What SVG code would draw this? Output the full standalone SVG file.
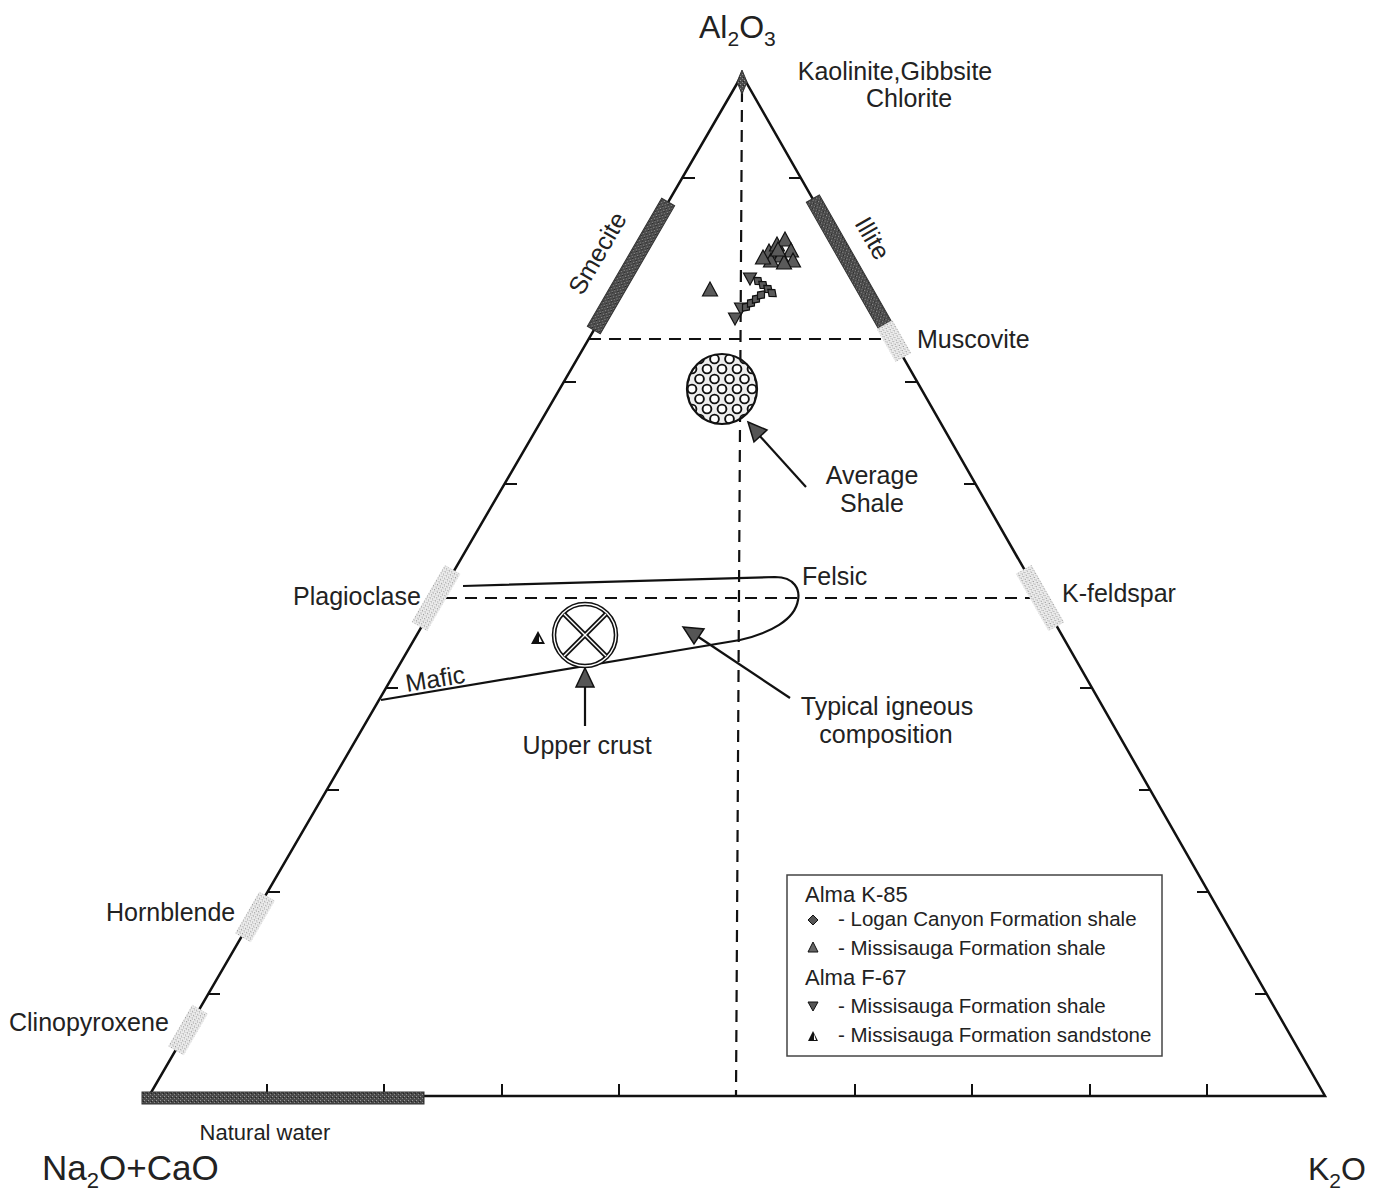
<svg xmlns="http://www.w3.org/2000/svg" width="1383" height="1193" viewBox="0 0 1383 1193">
<defs>
<style>
.edge{fill:none;stroke:#111;stroke-width:2.5;stroke-linejoin:miter}
.tick{stroke:#111;stroke-width:2}
.dash{fill:none;stroke:#111;stroke-width:2.2;stroke-dasharray:12 8}
.solid{fill:none;stroke:#111;stroke-width:2.2}
.lbl{font-family:"Liberation Sans",Arial,sans-serif;font-size:25px;fill:#222}
.big{font-family:"Liberation Sans",Arial,sans-serif;font-size:32px;fill:#222}
.leg{font-family:"Liberation Sans",Arial,sans-serif;font-size:20.5px;fill:#222}
.legh{font-family:"Liberation Sans",Arial,sans-serif;font-size:22px;fill:#222}
.dark{fill:url(#darkPat);stroke:#333;stroke-width:1}
.light{fill:url(#lightPat);stroke:none}
.pt{fill:#5a5a5a;stroke:#111;stroke-width:1.2}
.ahead{fill:#555;stroke:#111;stroke-width:1.5}
</style>
<pattern id="darkPat" width="4" height="4" patternUnits="userSpaceOnUse">
<rect width="4" height="4" fill="#4a4a4a"/>
<rect x="0" y="0" width="1" height="1" fill="#999"/>
<rect x="2" y="2" width="1" height="1" fill="#888"/>
<rect x="3" y="1" width="1" height="1" fill="#222"/>
</pattern>
<pattern id="lightPat" width="3" height="3" patternUnits="userSpaceOnUse">
<rect width="3" height="3" fill="#ececec"/>
<rect x="0" y="0" width="1" height="1" fill="#999"/>
<rect x="2" y="1" width="1" height="1" fill="#bbb"/>
</pattern>
<pattern id="ringPat" width="15" height="20" patternUnits="userSpaceOnUse" x="722" y="389">
<rect width="15" height="20" fill="#eeeeee"/>
<circle cx="0" cy="0" r="4.4" fill="#fff" stroke="#111" stroke-width="1.9"/>
<circle cx="15" cy="0" r="4.4" fill="#fff" stroke="#111" stroke-width="1.9"/>
<circle cx="0" cy="20" r="4.4" fill="#fff" stroke="#111" stroke-width="1.9"/>
<circle cx="15" cy="20" r="4.4" fill="#fff" stroke="#111" stroke-width="1.9"/>
<circle cx="7.5" cy="10" r="4.4" fill="#fff" stroke="#111" stroke-width="1.9"/>
</pattern>
<path id="triUp" d="M0,-9 L7.5,5 L-7.5,5 Z"/>
<path id="triDn" d="M0,7 L6.5,-5 L-6.5,-5 Z"/>
<path id="dia" d="M0,-5.5 L4.5,0 L0,5.5 L-4.5,0 Z"/>
</defs>
<rect width="1383" height="1193" fill="#fff"/>

<g id="triangle">
<path class="edge" d="M742,75 L149,1096 L1325,1096 Z"/>
</g>

<g id="ticks">
<line class="tick" x1="208" y1="994" x2="220" y2="994"/>
<line class="tick" x1="268" y1="892" x2="280" y2="892"/>
<line class="tick" x1="327" y1="790" x2="339" y2="790"/>
<line class="tick" x1="386" y1="688" x2="398" y2="688"/>
<line class="tick" x1="505" y1="484" x2="517" y2="484"/>
<line class="tick" x1="564" y1="382" x2="576" y2="382"/>
<line class="tick" x1="683" y1="178" x2="695" y2="178"/>
<line class="tick" x1="1255" y1="994" x2="1267" y2="994"/>
<line class="tick" x1="1197" y1="892" x2="1209" y2="892"/>
<line class="tick" x1="1139" y1="790" x2="1151" y2="790"/>
<line class="tick" x1="1080" y1="688" x2="1092" y2="688"/>
<line class="tick" x1="964" y1="484" x2="976" y2="484"/>
<line class="tick" x1="905" y1="382" x2="917" y2="382"/>
<line class="tick" x1="789" y1="178" x2="801" y2="178"/>
<line class="tick" x1="267" y1="1084" x2="267" y2="1096"/>
<line class="tick" x1="384" y1="1084" x2="384" y2="1096"/>
<line class="tick" x1="502" y1="1084" x2="502" y2="1096"/>
<line class="tick" x1="619" y1="1084" x2="619" y2="1096"/>
<line class="tick" x1="855" y1="1084" x2="855" y2="1096"/>
<line class="tick" x1="972" y1="1084" x2="972" y2="1096"/>
<line class="tick" x1="1090" y1="1084" x2="1090" y2="1096"/>
<line class="tick" x1="1207" y1="1084" x2="1207" y2="1096"/>
</g>

<g id="connectors">
<line class="dash" x1="742" y1="90" x2="736" y2="1096"/>
<line class="dash" x1="589" y1="339" x2="893" y2="339"/>
<line class="dash" x1="445" y1="598" x2="1032" y2="598"/>
<path class="solid" d="M463,586 L775,577 C795,577 800,590 798,600 C795,620 770,633 740,640 L381,700"/>
<line class="solid" x1="806" y1="487" x2="758" y2="434"/>
<path class="ahead" d="M748,422 L767,430 L754,442 Z"/>
<line class="solid" x1="585" y1="726" x2="585" y2="684"/>
<path class="ahead" d="M585,668 L594,687 L576,687 Z"/>
<line class="solid" x1="790" y1="698" x2="697" y2="636"/>
<path class="ahead" d="M683,627 L704,629 L694,644 Z"/>
</g>

<g id="mineral-bars">
<g id="smecite-bar" transform="translate(631,266) rotate(-59.85)"><rect class="dark" x="-74" y="-7.5" width="148" height="15"/></g>
<g id="illite-bar" transform="translate(849,262) rotate(60.3)"><rect class="dark" x="-73" y="-7.5" width="146" height="15"/></g>
<g id="natural-water-bar"><rect class="dark" x="142" y="1092" width="282" height="12"/></g>
<g id="muscovite-mark" transform="translate(894,341) rotate(60.3)"><rect class="light" x="-19" y="-9" width="38" height="18"/></g>
<g id="plagioclase-mark" transform="translate(436,598) rotate(-59.85)"><rect class="light" x="-33" y="-9" width="66" height="18"/></g>
<g id="kfeldspar-mark" transform="translate(1040,598) rotate(60.3)"><rect class="light" x="-33" y="-9" width="66" height="18"/></g>
<g id="hornblende-mark" transform="translate(255,917) rotate(-59.85)"><rect class="light" x="-24" y="-9" width="48" height="18"/></g>
<g id="clinopyroxene-mark" transform="translate(188,1030) rotate(-59.85)"><rect class="light" x="-24" y="-9" width="48" height="18"/></g>
<g id="apex-mark"><path d="M742,70 L747,82 L742,94 L737,82 Z" fill="url(#darkPat)" stroke="#333" stroke-width="1"/></g>
</g>

<g id="average-shale">
<circle cx="722" cy="389" r="35" fill="url(#ringPat)" stroke="#111" stroke-width="2.2"/>
</g>

<g id="upper-crust">
<circle cx="585" cy="635" r="31" fill="#fff" stroke="#111" stroke-width="4.5"/>
<circle cx="585" cy="635" r="31" fill="none" stroke="#fff" stroke-width="1.4"/>
<line x1="564" y1="614" x2="606" y2="656" stroke="#111" stroke-width="5"/>
<line x1="606" y1="614" x2="564" y2="656" stroke="#111" stroke-width="5"/>
<line x1="564" y1="614" x2="606" y2="656" stroke="#fff" stroke-width="1.5"/>
<line x1="606" y1="614" x2="564" y2="656" stroke="#fff" stroke-width="1.5"/>
</g>

<g id="data-points">
<use href="#triUp" class="pt" x="769" y="253"/>
<use href="#triUp" class="pt" x="777" y="246"/>
<use href="#triUp" class="pt" x="785" y="241"/>
<use href="#triUp" class="pt" x="791" y="252"/>
<use href="#triUp" class="pt" x="781" y="257"/>
<use href="#triUp" class="pt" x="771" y="262"/>
<use href="#triUp" class="pt" x="793" y="262"/>
<use href="#triUp" class="pt" x="784" y="264"/>
<use href="#triUp" class="pt" x="763" y="259"/>
<use href="#triUp" class="pt" x="778" y="251"/>
<use href="#triUp" class="pt" x="710" y="291"/>
<use href="#triDn" class="pt" x="750" y="278"/>
<use href="#triDn" class="pt" x="741" y="308"/>
<use href="#triDn" class="pt" x="735" y="318"/>
<g transform="translate(758,281) rotate(-50)"><use href="#dia" class="pt"/></g>
<g transform="translate(763,285) rotate(-50)"><use href="#dia" class="pt"/></g>
<g transform="translate(768,289) rotate(-50)"><use href="#dia" class="pt"/></g>
<g transform="translate(772,293) rotate(-50)"><use href="#dia" class="pt"/></g>
<g transform="translate(746,307) rotate(40)"><use href="#dia" class="pt"/></g>
<g transform="translate(751,303) rotate(40)"><use href="#dia" class="pt"/></g>
<g transform="translate(756,299) rotate(40)"><use href="#dia" class="pt"/></g>
<g transform="translate(761,295) rotate(40)"><use href="#dia" class="pt"/></g>
<path d="M538,631 L545,644 L531,644 Z" fill="#111"/>
<path d="M539,636 L542,642 L539,642 Z" fill="#fff"/>
</g>

<g id="labels">
<text class="big" x="699" y="38">Al<tspan font-size="21" dy="8">2</tspan><tspan dy="-8">O</tspan><tspan font-size="21" dy="8">3</tspan></text>
<text class="big" x="42" y="1180" style="font-size:35px">Na<tspan font-size="22" dy="8">2</tspan><tspan dy="-8">O+CaO</tspan></text>
<text class="big" x="1308" y="1180">K<tspan font-size="21" dy="8">2</tspan><tspan dy="-8">O</tspan></text>
<text class="lbl" x="895" y="80" text-anchor="middle">Kaolinite,Gibbsite</text>
<text class="lbl" x="909" y="107" text-anchor="middle">Chlorite</text>
<text class="lbl" x="597" y="262" text-anchor="middle" transform="rotate(-60 597 253)">Smecite</text>
<text class="lbl" x="873" y="247" text-anchor="middle" transform="rotate(60 873 238)">Illite</text>
<text class="lbl" x="917" y="348">Muscovite</text>
<text class="lbl" x="872" y="484" text-anchor="middle">Average</text>
<text class="lbl" x="872" y="512" text-anchor="middle">Shale</text>
<text class="lbl" x="802" y="585">Felsic</text>
<text class="lbl" x="293" y="605">Plagioclase</text>
<text class="lbl" x="1062" y="602">K-feldspar</text>
<text class="lbl" x="407" y="692" transform="rotate(-9 407 692)">Mafic</text>
<text class="lbl" x="887" y="715" text-anchor="middle">Typical igneous</text>
<text class="lbl" x="886" y="743" text-anchor="middle">composition</text>
<text class="lbl" x="587" y="754" text-anchor="middle">Upper crust</text>
<text class="lbl" x="106" y="921">Hornblende</text>
<text class="lbl" x="9" y="1031">Clinopyroxene</text>
<text class="lbl" x="265" y="1140" text-anchor="middle" style="font-size:22px">Natural water</text>
</g>

<g id="legend">
<rect x="787" y="875" width="375" height="181" fill="#fff" stroke="#444" stroke-width="1.5"/>
<text class="legh" x="805" y="902">Alma K-85</text>
<path d="M813,915 L818,920 L813,925 L808,920 Z" fill="#555" stroke="#111" stroke-width="1"/>
<text class="leg" x="838" y="926">- Logan Canyon Formation shale</text>
<path d="M813,942 L818,952 L808,952 Z" fill="#666" stroke="#111" stroke-width="1"/>
<text class="leg" x="838" y="955">- Missisauga Formation shale</text>
<text class="legh" x="805" y="985">Alma F-67</text>
<path d="M813,1011 L818,1002 L808,1002 Z" fill="#555" stroke="#111" stroke-width="1"/>
<text class="leg" x="838" y="1013">- Missisauga Formation shale</text>
<path d="M813,1031 L818,1041 L808,1041 Z" fill="#111"/>
<path d="M814,1034 L816,1040 L814,1040 Z" fill="#fff"/>
<text class="leg" x="838" y="1042">- Missisauga Formation sandstone</text>
</g>
</svg>
